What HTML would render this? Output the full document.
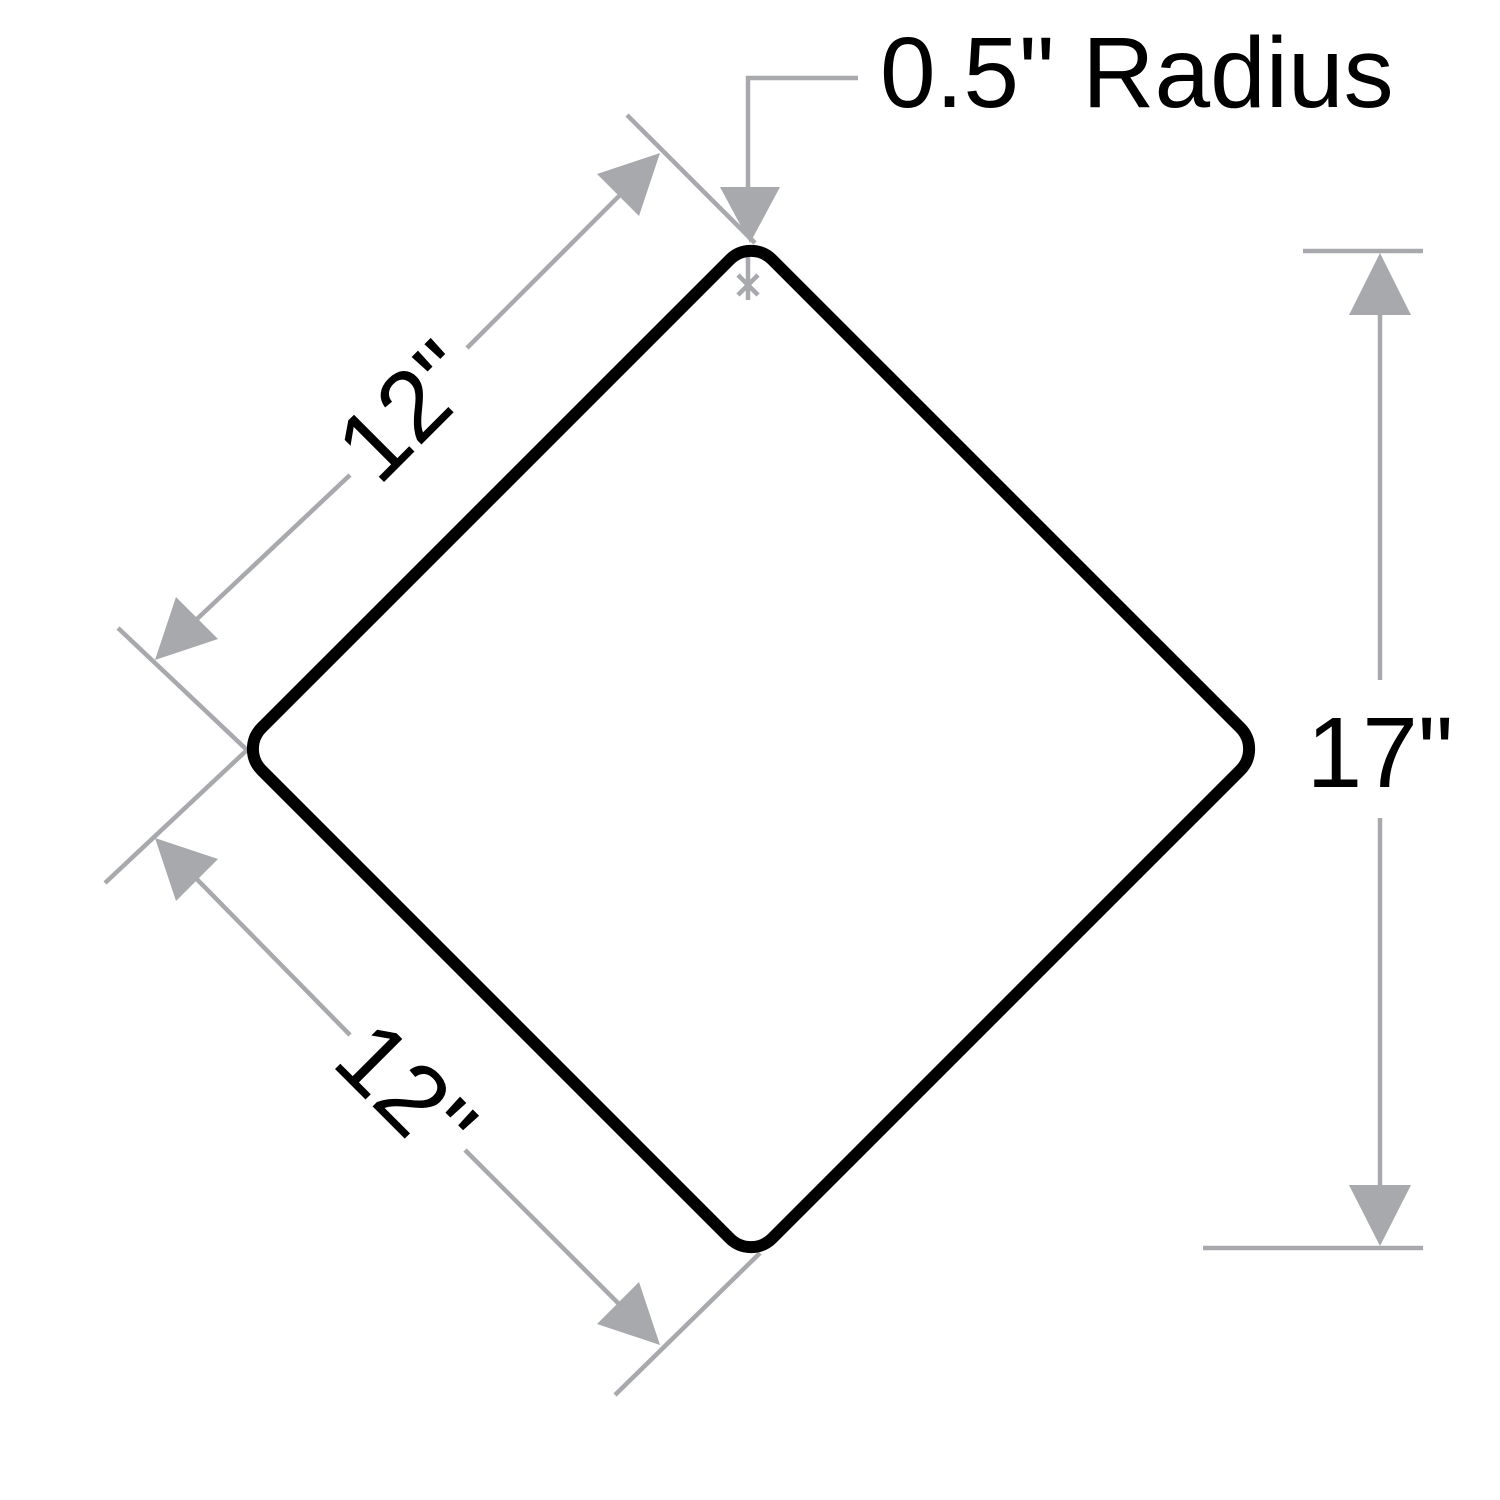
<!DOCTYPE html>
<html><head><meta charset="utf-8"><style>html,body{margin:0;padding:0;background:#fff}svg{display:block}</style></head>
<body>
<svg width="1500" height="1500" viewBox="0 0 1500 1500" xmlns="http://www.w3.org/2000/svg">
<g stroke="#a7a9ac" stroke-width="4.5" fill="none">
  <line x1="627" y1="115" x2="755" y2="243"/>
  <line x1="118" y1="628" x2="247" y2="750"/>
  <line x1="640" y1="175" x2="467" y2="348"/>
  <line x1="350" y1="475" x2="180" y2="635"/>
  <line x1="247" y1="750" x2="105" y2="883"/>
  <line x1="760" y1="1253" x2="615" y2="1395"/>
  <line x1="180" y1="862" x2="350" y2="1035"/>
  <line x1="465" y1="1150" x2="635" y2="1320"/>
  <line x1="1303" y1="251" x2="1423" y2="251"/>
  <line x1="1203" y1="1248" x2="1423" y2="1248"/>
  <line x1="1380" y1="300" x2="1380" y2="680"/>
  <line x1="1380" y1="818" x2="1380" y2="1200"/>
  <polyline points="858,78 748,78 748,195"/>
  <line x1="748" y1="245" x2="748" y2="300"/>
  <line x1="738" y1="275" x2="758" y2="295"/>
  <line x1="758" y1="275" x2="738" y2="295"/>
</g>
<g fill="#a7a9ac">
  <polygon points="660,153 639,216 597,174"/>
  <polygon points="155,660 218,639 176,597"/>
  <polygon points="155,838 218,859 176,901"/>
  <polygon points="660,1345 639,1282 597,1324"/>
  <polygon points="1380,253 1349,315 1411,315"/>
  <polygon points="1380,1246 1349,1185 1411,1185"/>
  <polygon points="750,243 720,187 780,187"/>
</g>
<rect x="390" y="388" width="722" height="722" rx="30" ry="30" transform="rotate(45 751 749)" fill="none" stroke="#000" stroke-width="12"/>
<g font-family="'Liberation Sans', Arial, sans-serif" font-size="100" fill="#000">
  <text x="880" y="107">0.5" Radius</text>
  <text x="1380" y="787" text-anchor="middle">17"</text>
  <text transform="translate(405,410) rotate(-45)" x="0" y="36" text-anchor="middle">12"</text>
  <text transform="translate(407,1090) rotate(45)" x="0" y="36" text-anchor="middle">12"</text>
</g>
</svg>
</body></html>
